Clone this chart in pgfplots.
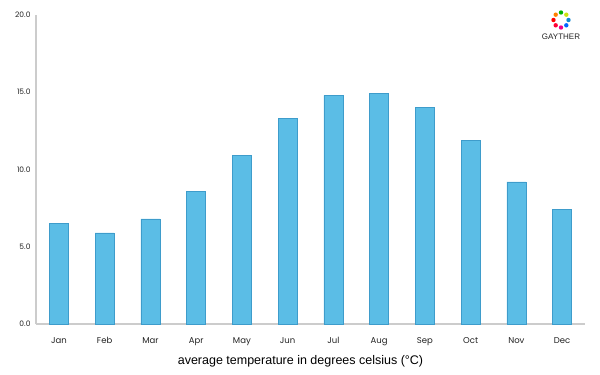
\documentclass[border=0pt]{standalone}
\usepackage{pgfplots}
\pgfplotsset{compat=1.18}
\usepackage{fontspec}
\setmainfont{Liberation Sans}
\newfontfamily\tickfont{Poppins}
\definecolor{barfill}{HTML}{5BBDE6}
\definecolor{baredge}{HTML}{3E9CCB}
\definecolor{axisgray}{HTML}{CCCCCC}
\definecolor{ticktext}{HTML}{222222}
\begin{document}
\begin{tikzpicture}
\begin{axis}[
  scale only axis,
  width=549pt, height=309pt,
  xmin=-0.5, xmax=11.5,
  ymin=0, ymax=20,
  axis x line*=bottom, axis y line*=left,
  axis line style={axisgray, line width=1.2pt},
  tick style={draw=none},
  xtick=data,
  xticklabels={Jan,Feb,Mar,Apr,May,Jun,Jul,Aug,Sep,Oct,Nov,Dec},
  ytick={0,5,10,15,20},
  yticklabel style={/pgf/number format/fixed, /pgf/number format/fixed zerofill, /pgf/number format/precision=1, /pgf/number format/assume math mode=true, xshift=-2pt, font=\tickfont\fontsize{7.5}{9}\selectfont},
  ticklabel style={text=ticktext},
  xticklabel style={yshift=-3pt, font=\tickfont\fontsize{8.5}{10}\selectfont, text height=1.6ex, text depth=0.4ex},
  xlabel={average temperature in degrees celsius (°C)},
  xlabel style={font=\fontsize{12.5}{14}\selectfont, yshift=-3pt, xshift=-10pt},
  ybar, bar width=19pt,
  clip=false,
]
\addplot[fill=barfill, draw=baredge, line width=0.6pt] coordinates {
(0,6.5) (1,5.9) (2,6.8) (3,8.6) (4,10.9) (5,13.3) (6,14.8) (7,14.9) (8,14.0) (9,11.9) (10,9.2) (11,7.4)};
\end{axis}
\path (current axis.south west) ++(-36pt,-51pt) rectangle ++(600pt,375pt);
% logo
\begin{scope}[shift={(current axis.south west)}, shift={(525pt,304pt)}]
\foreach \a/\c in {90/green!70!black,45/yellow!80!green,0/cyan!70!blue,-45/blue!60!cyan,-90/magenta,-135/red!80!magenta,180/red,135/orange}{
  \fill[\c] (\a:7.5pt) circle (2.2pt);
}
\node[font=\fontsize{8}{9}\selectfont, text=ticktext] at (0,-17pt) {GAYTHER};
\end{scope}
\end{tikzpicture}
\end{document}
